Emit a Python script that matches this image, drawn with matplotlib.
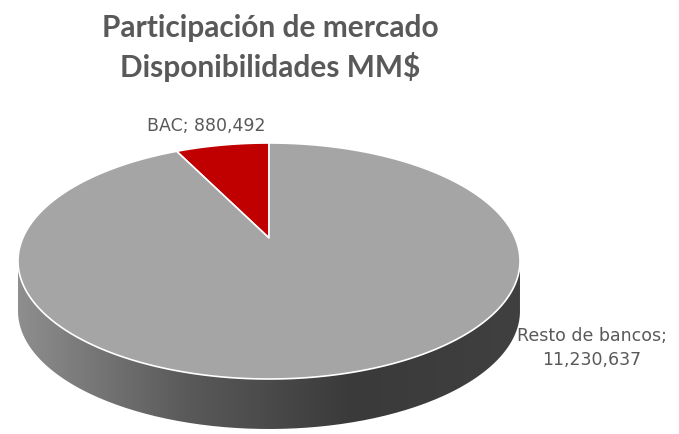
import numpy as np
import matplotlib
matplotlib.use("Agg")
import matplotlib.pyplot as plt
from matplotlib.patches import Polygon
from matplotlib.path import Path
from matplotlib.patches import PathPatch

labels = ["BAC", "Resto de bancos"]
values = [880492, 11230637]
colors = ["#c00000", "#a5a5a5"]
title_lines = ["Participación de mercado", "Disponibilidades MM$"]

W, H = 679, 434
fig = plt.figure(figsize=(W / 100, H / 100), dpi=100)
ax = fig.add_axes([0, 0, 1, 1])
ax.set_xlim(0, W)
ax.set_ylim(H, 0)
ax.axis("off")

cx, cy, rx, ry, depth = 269, 261, 251, 118, 50
tshift = 0.195  # perspective: pie centre appears above ellipse centre

def persp(u, v):
    s = np.sqrt(1 - tshift ** 2)
    d = 1 + tshift * v
    return u * s / d, (v + tshift) / d

def to_px(u, v):
    return cx + rx * u, cy - ry * v

def ell(theta_deg):
    t = np.radians(theta_deg)
    return to_px(np.cos(t), np.sin(t))

# side (front half)
th = np.linspace(180, 360, 200)
xs, ys = ell(th)
side = np.concatenate([np.column_stack([xs, ys]), np.column_stack([xs[::-1], ys[::-1] + depth])])
patch = PathPatch(Path(side), facecolor="none", edgecolor="none")
ax.add_patch(patch)
grad = np.linspace(0, 1, 256)[None, :]
cmap = matplotlib.colors.LinearSegmentedColormap.from_list("g", ["#8e8e8e", "#5a5a5a", "#3a3a3a", "#404040"])
im = ax.imshow(grad, extent=[cx - rx, cx + rx, cy + ry + depth + 2, cy - 5], cmap=cmap, aspect="auto", zorder=1)
im.set_clip_path(patch)

# top slices
total = sum(values)
start = 90.0
apex = to_px(*persp(0.0, 0.0))
for v, c in zip(values, colors):
    span = 360.0 * v / total
    t = np.radians(np.linspace(start, start + span, 300))
    u, w = persp(np.cos(t), np.sin(t))
    px, py = to_px(u, w)
    pts = np.vstack([[apex], np.column_stack([px, py]), [apex]])
    ax.add_patch(Polygon(pts, closed=True, facecolor=c, edgecolor="white", linewidth=1.2, zorder=2, joinstyle="round"))
    start += span

# titles
fp = dict(fontsize=21.5, fontweight="bold", color="#595959", ha="center", va="center",
          family=["Lato", "DejaVu Sans"])
ax.text(270, 28, title_lines[0], **fp)
ax.text(270, 67, title_lines[1], **fp)

lf = dict(fontsize=12.5, color="#595959", ha="center", va="center")
ax.text(206, 126, f"{labels[0]}; {values[0]:,}", **lf)
ax.text(592, 336, f"{labels[1]};", **lf)
ax.text(592, 360, f"{values[1]:,}", **lf)

fig.savefig("out.png", dpi=100, facecolor="white")
